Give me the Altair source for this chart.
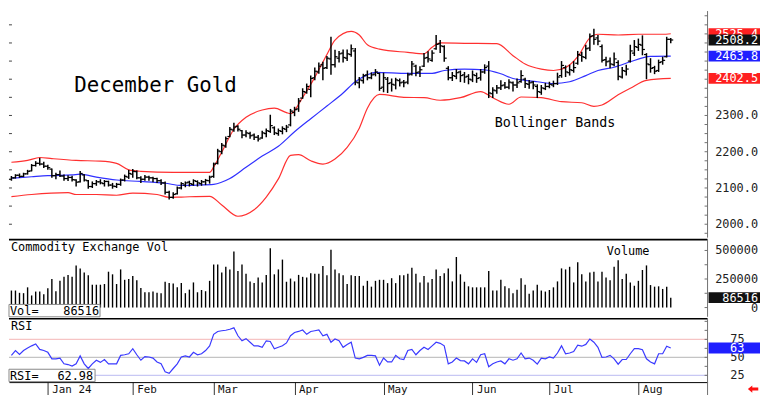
import altair as alt
import pandas as pd

# ---------------- data ----------------
OPEN = [2124,2128,2135,2132,2139,2147,2162,2168,2166,2160,
        2152,2134,2137,2133,2126,2129,2122,2117,2136,2120,
        2104,2112,2117,2112,2118,2108,2104,2110,2122,2130,
        2138,2145,2128,2124,2130,2128,2126,2120,2114,2088,
        2074,2084,2100,2108,2116,2110,2118,2112,2117,2120,
        2132,2168,2200,2216,2242,2260,2270,2258,2246,2250,
        2246,2240,2238,2250,2256,2266,2250,2256,2262,2274,
        2308,2318,2348,2364,2372,2404,2420,2440,2432,2456,
        2440,2458,2472,2458,2468,2478,2390,2396,2412,2404,
        2414,2416,2378,2400,2390,2384,2396,2392,2392,2414,
        2436,2420,2436,2460,2452,2484,2498,2490,2430,2404,
        2408,2420,2412,2408,2398,2410,2404,2420,2436,2360,
        2368,2376,2384,2378,2390,2384,2394,2400,2386,2392,
        2380,2364,2374,2380,2384,2388,2410,2432,2418,2424,
        2444,2466,2460,2486,2520,2514,2490,2454,2450,2440,
        2446,2406,2422,2450,2472,2488,2494,2468,2440,2432,
        2424,2448,2462,2510]
HIGH = [2133,2138,2140,2142,2150,2166,2174,2183,2172,2164,
        2154,2142,2148,2137,2135,2134,2124,2147,2138,2122,
        2118,2122,2124,2122,2120,2114,2114,2126,2137,2150,
        2152,2148,2132,2136,2134,2131,2128,2124,2118,2092,
        2088,2104,2116,2118,2120,2124,2121,2122,2125,2134,
        2170,2208,2224,2242,2268,2280,2273,2260,2259,2255,
        2250,2246,2258,2264,2302,2270,2264,2270,2274,2318,
        2324,2348,2375,2388,2410,2432,2446,2448,2464,2517,
        2481,2478,2482,2482,2496,2486,2406,2415,2424,2419,
        2428,2418,2418,2406,2402,2404,2402,2398,2418,2450,
        2440,2436,2472,2477,2480,2522,2508,2494,2436,2420,
        2428,2424,2420,2414,2424,2418,2428,2441,2450,2378,
        2384,2397,2392,2400,2394,2402,2425,2404,2398,2395,
        2386,2384,2390,2393,2396,2418,2450,2438,2440,2450,
        2478,2476,2495,2526,2539,2522,2496,2462,2460,2474,
        2452,2434,2440,2495,2508,2512,2521,2472,2458,2437,
        2454,2462,2517,2514]
LOW = [2120,2126,2128,2130,2137,2146,2159,2162,2155,2150,
       2128,2124,2130,2120,2119,2118,2104,2115,2118,2098,
       2100,2106,2110,2104,2104,2098,2100,2106,2118,2125,
       2128,2124,2114,2120,2120,2116,2114,2108,2082,2068,
       2070,2082,2096,2102,2104,2106,2104,2106,2108,2112,
       2128,2165,2193,2211,2240,2255,2256,2237,2240,2236,
       2232,2228,2236,2240,2252,2246,2244,2248,2254,2270,
       2298,2310,2346,2360,2350,2397,2415,2397,2428,2412,
       2432,2446,2446,2450,2462,2383,2375,2388,2397,2400,
       2408,2368,2364,2362,2366,2372,2380,2378,2386,2410,
       2408,2406,2434,2446,2448,2481,2472,2448,2397,2395,
       2400,2392,2390,2386,2392,2390,2396,2415,2348,2348,
       2360,2370,2374,2372,2366,2376,2390,2376,2374,2372,
       2348,2357,2370,2375,2378,2384,2404,2406,2410,2418,
       2440,2448,2455,2478,2495,2494,2446,2436,2430,2436,
       2397,2402,2410,2446,2464,2478,2466,2400,2418,2414,
       2420,2440,2460,2499]
CLOSE = [2128,2135,2132,2139,2146,2162,2168,2166,2160,2156,
         2134,2137,2133,2126,2129,2123,2116,2140,2122,2104,
         2112,2117,2114,2118,2108,2105,2110,2122,2132,2140,
         2146,2128,2124,2130,2128,2126,2120,2114,2088,2074,
         2082,2100,2112,2114,2112,2120,2114,2117,2121,2130,
         2166,2202,2218,2236,2262,2268,2262,2246,2252,2244,
         2240,2235,2252,2258,2272,2252,2258,2264,2268,2312,
         2316,2340,2366,2380,2402,2422,2436,2430,2458,2440,
         2462,2470,2460,2470,2484,2392,2398,2410,2404,2412,
         2420,2375,2404,2388,2386,2398,2390,2390,2412,2442,
         2418,2426,2458,2456,2472,2496,2492,2458,2404,2410,
         2418,2410,2406,2400,2412,2402,2420,2432,2362,2370,
         2376,2382,2378,2392,2384,2390,2410,2388,2390,2384,
         2366,2376,2380,2386,2388,2406,2438,2420,2426,2432,
         2468,2462,2484,2518,2510,2505,2452,2448,2442,2456,
         2408,2424,2428,2478,2490,2496,2482,2442,2430,2422,
         2446,2452,2510,2508.2]
VOLUME_K = [149,149,129,126,177,106,140,140,117,169,
            249,143,234,269,286,269,369,343,306,283,
            200,200,200,206,314,291,206,334,243,249,
            277,240,171,134,134,140,129,126,226,214,
            211,177,214,126,157,220,134,154,143,234,
            377,377,306,357,334,491,320,377,297,229,
            214,263,220,286,520,291,334,420,226,254,
            229,286,269,263,300,297,297,363,283,506,
            334,300,283,206,283,277,277,191,234,183,
            234,243,243,214,257,214,283,283,297,349,
            297,220,277,220,249,334,277,300,343,229,
            443,291,226,186,177,177,177,177,320,149,
            149,243,186,169,126,157,257,200,120,149,
            200,149,140,154,177,229,343,334,357,220,
            397,291,229,306,314,229,314,263,240,357,
            414,249,297,220,191,234,329,369,197,183,
            186,163,183,86.516]
RSI = [52.7,59.5,54,59.5,63,66,68.6,61,59.5,57,
       48,48,49,41,40,38,41,52,41,34.5,
       41,46,43,47,41,41,41,52.7,53.6,55,
       62,53.6,46,51,50.5,49,43.6,41,30,27.7,
       34.5,41,50.5,52,50.5,57,53.6,55,59.5,66,
       82,86,87,87.7,89,91,80,73,76,71,
       66,66,64,73,72,62,64,66,70,80,
       84.5,86,88,82,86,87,88,80,82,71,
       75.5,73,64,68,71,49,48,50,52.7,52.7,
       52,39,49,43.6,43.6,52.7,48,47,59.5,61,
       53.6,59.5,64,61,66,71,69.5,66,41,43.6,
       49,45.5,45,41,48,43,53.6,55,37,41,
       43.6,45,41,48,46,48,56,48,49,46,
       40.5,49,48,50.5,49,56,66,55,56,58,
       67,65.5,68,75.5,71,64,50,50.5,52.7,48,
       40.5,47,47,55,62,62,60.5,48,43.6,41,
       55,55,65.5,62.98]

# Bollinger bands, read at sample bars
UP_I = [0,4,7,10,16,22,26,29,32,40,49,50,52,55,58,62,65,68,69,72,75,78,80,84,86,88,91,98,102,104,
        106,112,120,124,127,131,134,137,140,143,145,150,155,161,163]
UP_V = [2171,2176,2184,2181,2176,2174,2168,2150,2146,2143,2143,2158,2199,2262,2295,2315,2320,2308,2305,2350,
        2405,2468,2508,2532,2522,2495,2483,2474,2470,2488,2500,2499,2498,2465,2442,2428,2424,2432,2462,2514,
        2524,2522,2524,2524,2525.4]
MID_I = [0,5,9,15,17,21,26,32,38,42,46,50,54,58,62,66,70,74,78,82,85,88,90,98,104,107,112,117,121,124,
         127,130,134,138,142,145,149,153,156,158,163]
MID_V = [2127,2131,2134,2136,2138,2130,2122,2118,2113,2107,2108,2110,2126,2157,2188,2215,2255,2291,2326,2362,
         2393,2412,2419,2416,2416,2424,2428,2426,2415,2402,2397,2393,2388,2393,2410,2424,2433,2448,2459,2463,
         2463.8]
LOB_I = [0,5,14,16,21,26,30,36,39,42,49,52,56,60,63,66,69,71,74,77,80,83,86,88,91,97,102,106,111,116,
         119,123,126,131,136,141,144,146,150,153,157,163]
LOB_V = [2076,2082,2087,2082,2082,2080,2086,2082,2074,2075,2077,2053,2022,2040,2075,2125,2190,2192,2175,2166,
         2180,2212,2265,2320,2358,2350,2349,2342,2349,2366,2349,2331,2351,2349,2338,2335,2325,2329,2357,2375,
         2397,2402.5]

MONTH_POS = [9, 30, 50, 70, 92, 114, 133, 155]
MONTH_LABELS = ["Jan 24", "Feb", "Mar", "Apr", "May", "Jun", "Jul", "Aug"]
PRICE_LABELS = [2000, 2100, 2200, 2300]
PRICE_MINOR = list(range(1975, 2588, 25))
PRICE_LEFT = list(range(2000, 2588, 50))
VOL_LABELS = [0, 250000, 500000]
VOL_MINOR = [0, 125000, 250000, 375000, 500000]
RSI_LABELS = [25, 50, 75]
RSI_MINOR = [25, 37.5, 50, 62.5, 75, 87.5, 100]
LAST_UPPER, LAST_CLOSE, LAST_MID, LAST_LOWER = 2525.4, 2508.2, 2463.8, 2402.5
LAST_VOL = 86516
LAST_RSI = 62.98

# ---------------- layout ----------------
W = 706
PH, VH, RH = 229, 78, 64
XDOM = [-0.6, 172.1]
MONO = "DejaVu Sans Mono"
BOX = "M-1,-0.21L1,-0.21L1,0.21L-1,0.21Z"
ARROW = "M-1,0L-0.15,-0.7L-0.15,-0.28L1,-0.28L1,0.28L-0.15,0.28L-0.15,0.7Z"
AXIS_GRAY = "#707070"

n = len(CLOSE)
bars = pd.DataFrame({"i": list(range(n)), "O": OPEN, "H": HIGH, "L": LOW, "C": CLOSE,
                     "V": [v * 1000 for v in VOLUME_K], "R": RSI})
bands = pd.concat([
    pd.DataFrame({"i": UP_I, "v": UP_V, "b": "upper"}),
    pd.DataFrame({"i": MID_I, "v": MID_V, "b": "middle"}),
    pd.DataFrame({"i": LOB_I, "v": LOB_V, "b": "lower"}),
])
one = pd.DataFrame({"a": [0]})

xs = alt.Scale(domain=XDOM, nice=False, zero=False)
X = alt.X("i:Q", scale=xs, axis=None)


def text(t, x, y, size=12, align="left", color="black"):
    return alt.Chart(pd.DataFrame({"t": [t]})).mark_text(
        align=align, baseline="middle", font=MONO, fontSize=size, color=color
    ).encode(x=alt.value(x), y=alt.value(y), text="t:N")


def axis_labels(values, scale, fmt, x, align="right"):
    return alt.Chart(pd.DataFrame({"t": values})).mark_text(
        align=align, baseline="middle", font=MONO, fontSize=12, color="#222"
    ).encode(x=alt.value(x), y=alt.Y("t:Q", scale=scale, axis=None),
             text=alt.Text("t:Q", format=fmt))


def inner_ticks(values, scale):
    return alt.Chart(pd.DataFrame({"t": values})).mark_rule(color=AXIS_GRAY).encode(
        x=alt.value(W - 3), x2=alt.value(W), y=alt.Y("t:Q", scale=scale, axis=None))


def axis_line(h):
    return alt.Chart(one).mark_rule(color=AXIS_GRAY).encode(
        x=alt.value(W), y=alt.value(0), y2=alt.value(h))


def box(df, yfield, scale, color):
    return alt.Chart(df).mark_point(filled=True, shape=BOX, size=2704, opacity=1,
                                    color=color, strokeWidth=0).encode(
        x=alt.value(W + 27), y=alt.Y(yfield, scale=scale, axis=None))


def box_text(df, yfield, scale, fmt, x=W + 51, align="right"):
    return alt.Chart(df).mark_text(align=align, baseline="middle", font=MONO,
                                   fontSize=12, color="white").encode(
        x=alt.value(x), y=alt.Y(yfield, scale=scale, axis=None),
        text=alt.Text(yfield, format=fmt))


# ---------------- price panel ----------------
ps = alt.Scale(domain=[1963, 2588], nice=False, zero=False)
band_lines = alt.Chart(bands).mark_line(strokeWidth=1.2, interpolate="monotone").encode(
    x=X, y=alt.Y("v:Q", scale=ps, axis=None),
    color=alt.Color("b:N", scale=alt.Scale(domain=["upper", "middle", "lower"],
                                           range=["#ff3030", "#3030ff", "#ff3030"]), legend=None),
    detail="b:N")
hl = alt.Chart(bars).mark_rule(color="black", strokeWidth=1.5).encode(
    x=X, y=alt.Y("L:Q", scale=ps, axis=None), y2="H:Q")
op = alt.Chart(bars).mark_rule(color="black", strokeWidth=1.2, x2Offset=-2.5).encode(
    x=X, x2="i:Q", y=alt.Y("O:Q", scale=ps, axis=None))
cl = alt.Chart(bars).mark_rule(color="black", strokeWidth=1.2, x2Offset=2.5).encode(
    x=X, x2="i:Q", y=alt.Y("C:Q", scale=ps, axis=None))
p_left = alt.Chart(pd.DataFrame({"t": PRICE_LEFT})).mark_rule(color="#444").encode(
    x=alt.value(0), x2=alt.value(3), y=alt.Y("t:Q", scale=ps, axis=None))
lv_col = pd.DataFrame({"v": [LAST_UPPER, LAST_MID, LAST_LOWER],
                       "c": ["#ff2020", "#1f1fff", "#ff2020"]})
boxes3 = alt.Chart(lv_col).mark_point(filled=True, shape=BOX, size=2704, opacity=1,
                                      strokeWidth=0).encode(
    x=alt.value(W + 27), y=alt.Y("v:Q", scale=ps, axis=None),
    color=alt.Color("c:N", scale=None))
lc = pd.DataFrame({"v": [LAST_CLOSE]})

price = alt.layer(
    band_lines, hl, op, cl, p_left,
    axis_line(PH), inner_ticks(PRICE_MINOR, ps),
    axis_labels(PRICE_LABELS, ps, ".1f", W + 51),
    text("December Gold", 66, 76, size=21),
    text("Bollinger Bands", 491, 113, size=13.5),
    boxes3, box_text(lv_col, "v:Q", ps, ".1f"),
    box(lc, "v:Q", ps, "#111111"), box_text(lc, "v:Q", ps, ".1f"),
).properties(width=W, height=PH)

# ---------------- volume panel ----------------
vs = alt.Scale(domain=[-81000, 595000], nice=False, zero=False)
vbars = alt.Chart(bars).mark_rule(color="black", strokeWidth=1.4).encode(
    x=X, y=alt.Y("V:Q", scale=vs, axis=None), y2=alt.datum(0))
v_top = alt.Chart(one).mark_rule(color="black", strokeWidth=1.6).encode(
    x=alt.value(0), x2=alt.value(W), y=alt.value(0))
v_lbox = alt.Chart(one).mark_rect(fill="white", stroke="#888", strokeWidth=1).encode(
    x=alt.value(0), x2=alt.value(92), y=alt.value(VH - 12.5), y2=alt.value(VH))
lvol = pd.DataFrame({"v": [LAST_VOL]})
volume = alt.layer(
    v_top, vbars, axis_line(VH), inner_ticks(VOL_MINOR, vs),
    axis_labels(VOL_LABELS, vs, "d", W + 51),
    v_lbox,
    text("Commodity Exchange Vol", 2, 7.5),
    text("Volume", 604, 11.5),
    text("Vol=", 1, VH - 6),
    text(f"{LAST_VOL}", 91, VH - 6, align="right"),
    box(lvol, "v:Q", vs, "#111111"), box_text(lvol, "v:Q", vs, "d"),
).properties(width=W, height=VH)

# ---------------- RSI panel ----------------
rs = alt.Scale(domain=[15.6, 103.6], nice=False, zero=False)
label_expr = " : ".join(f"datum.value == {p} ? '{l}'" for p, l in zip(MONTH_POS, MONTH_LABELS)) + " : ''"
x_axis = alt.Axis(values=MONTH_POS, labelExpr=label_expr, title=None, tickSize=14, tickColor="#333",
                  domainColor="#000", labelAlign="left", labelOffset=4, labelPadding=-12,
                  labelBaseline="top", labelFont=MONO, labelFontSize=11, labelColor="#111",
                  grid=False, labelFlush=False, labelOverlap=False)
ref = pd.DataFrame({"v": RSI_LABELS, "c": ["#c8c8f4", "#c4c4c4", "#f6c4c4"]})
r_ref = alt.Chart(ref).mark_rule(strokeWidth=1.2).encode(
    x=alt.value(0), x2=alt.value(W), y=alt.Y("v:Q", scale=rs, axis=None),
    color=alt.Color("c:N", scale=None))
r_line = alt.Chart(bars).mark_line(color="#3a3aff", strokeWidth=1.2).encode(
    x=alt.X("i:Q", scale=xs, axis=x_axis),
    y=alt.Y("R:Q", scale=rs, axis=None))
r_top = alt.Chart(one).mark_rule(color="black", strokeWidth=1.6).encode(
    x=alt.value(0), x2=alt.value(W), y=alt.value(0))
r_lbox = alt.Chart(one).mark_rect(fill="white", stroke="#888", strokeWidth=1).encode(
    x=alt.value(0), x2=alt.value(87), y=alt.value(RH - 13), y2=alt.value(RH - 0.5))
r_ext = alt.Chart(one).mark_rule(color=AXIS_GRAY).encode(
    x=alt.value(W), y=alt.value(0), y2=alt.value(RH + 15))
arrow = alt.Chart(one).mark_point(filled=True, shape=ARROW, size=110, color="#ff1010",
                                  opacity=1, strokeWidth=0).encode(
    x=alt.value(W + 46), y=alt.value(RH + 7))
lrsi = pd.DataFrame({"v": [LAST_RSI]})
rsi = alt.layer(
    r_top, r_ref, r_line, r_ext, inner_ticks(RSI_MINOR, rs),
    axis_labels(RSI_LABELS, rs, "d", W + 23, align="left"),
    r_lbox, arrow,
    text("RSI", 2, 7),
    text("RSI=", 1, RH - 6.5),
    text(f"{LAST_RSI:.2f}", 85, RH - 6.5, align="right"),
    box(lrsi, "v:Q", rs, "#1f1fff"),
    box_text(lrsi, "v:Q", rs, ".0f", x=W + 30, align="center"),
).properties(width=W, height=RH)

chart = alt.vconcat(price, volume, rsi, spacing=0).properties(
    padding={"left": 0, "top": 0, "right": 0, "bottom": 0}
).configure_view(stroke=None)

chart.save("out.html", embed_options={"renderer": "svg", "actions": False})
